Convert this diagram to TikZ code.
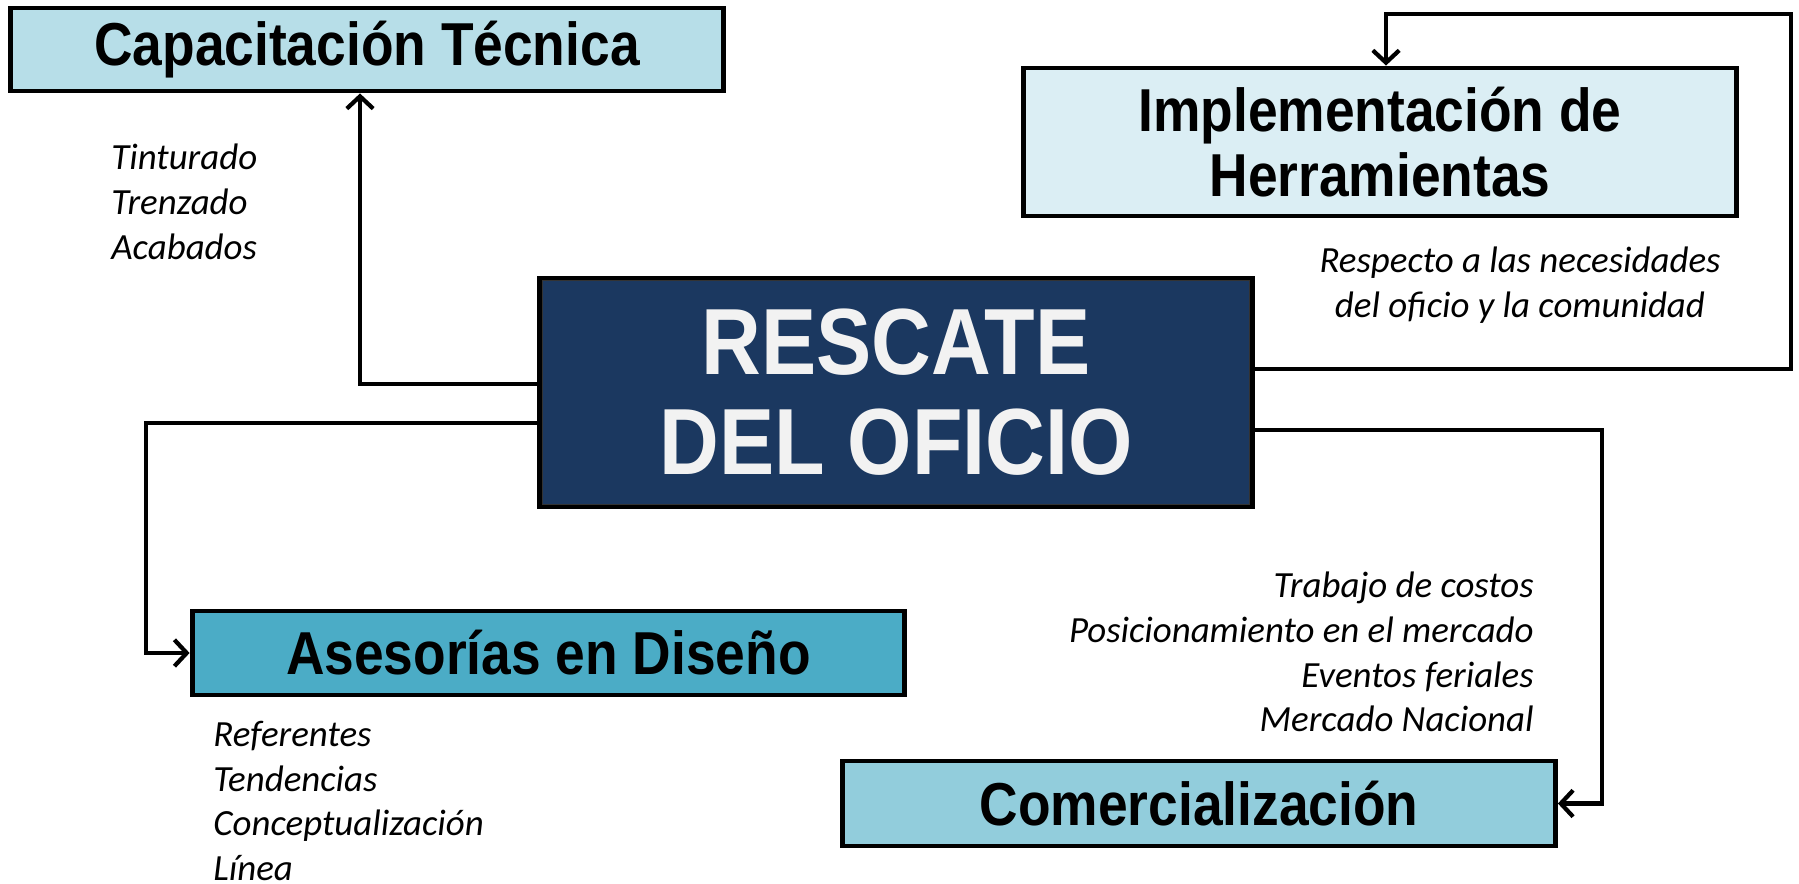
\documentclass[tikz,border=0pt]{standalone}
\usepackage{fontspec}
\newfontfamily\boxfont{Liberation Sans}[FakeStretch=0.88]
\newfontfamily\notefont{Carlito}
\usetikzlibrary{arrows.meta, calc, positioning}

\definecolor{navy}{RGB}{27,56,96}
\definecolor{capfill}{RGB}{183,222,232}
\definecolor{implfill}{RGB}{219,238,244}
\definecolor{asesfill}{RGB}{75,172,198}
\definecolor{comfill}{RGB}{146,205,220}

\tikzset{
    box/.style={draw, line width=2.8pt, minimum width=14.26cm, inner sep=0pt, align=center,
        font=\boxfont\bfseries\fontsize{34.5}{37}\selectfont},
    note/.style={inner sep=0pt, font=\notefont\itshape\fontsize{21}{25.5}\selectfont},
    link/.style={line width=2.4pt, -{Straight Barb[length=7pt, width=15pt]}}
}

\begin{document}
\begin{tikzpicture}[x=0.02cm, y=-0.02cm]
        \useasboundingbox (0,0) rectangle (1799,884);

        \node[box, fill=capfill, minimum height=1.66cm] (capac) at (367,49.5) {Capacitación Técnica};
        \node[box, fill=implfill, minimum height=2.96cm] (impl) at (1380,142) {Implementación de\\Herramientas};
        \node[box, fill=navy, text=white!95!black, minimum height=4.58cm,
            font=\boxfont\bfseries\fontsize{53.5}{57}\selectfont] (rescate) at (896,392.5) {RESCATE\\DEL OFICIO};
        \draw[line width=0.6pt, black!80] ($(rescate.south west)+(5,-5)$) rectangle ($(rescate.north east)+(-5,5)$);
        \node[box, fill=asesfill, minimum height=1.68cm] (ases) at (548.5,653) {Asesorías en Diseño};
        \node[box, fill=comfill, minimum height=1.7cm] (comer) at (1199,803.5) {Comercialización};

        % notes
        \node[note, anchor=west, align=left] (tech) at (111,202) {Tinturado\\Trenzado\\Acabados};
        \node[note, align=center] (needs) at (1520,285) {Respecto a las necesidades\\del oficio y la comunidad};
        \node[note, anchor=east, align=right] (market) at (1534,652) {Trabajo de costos\\Posicionamiento en el mercado\\Eventos feriales\\Mercado Nacional};
        \node[note, anchor=west, align=left] (design) at (213,801) {Referentes\\Tendencias\\Conceptualización\\Línea};

        \draw[link] (rescate.west |- 0,384) -| (capac.south -| 360,0);
        \draw[link] (rescate.east |- 0,369) -| (1791,14) -| (impl.north -| 1386,0);
        \draw[link] (rescate.west |- 0,423) -| (146,653) -- (ases.west);
        \draw[link] (rescate.east |- 0,430) -| (1602,803.5) -- (comer.east);

\end{tikzpicture}
\end{document}
